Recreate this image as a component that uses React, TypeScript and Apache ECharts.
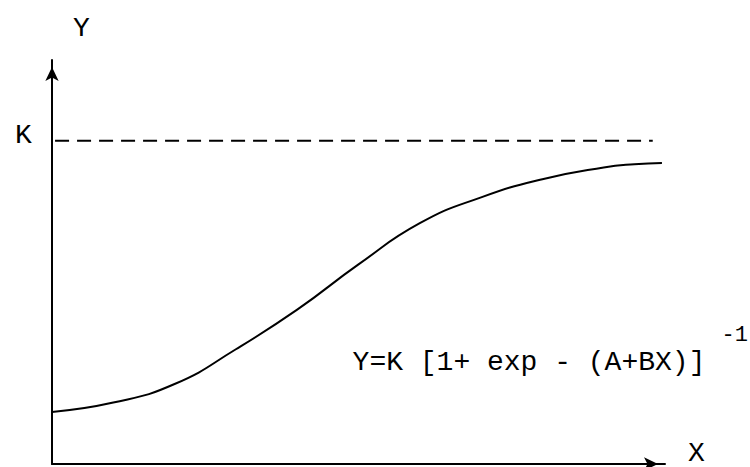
import React, { useEffect, useRef } from "react";
import * as echarts from "echarts";

// Logistic curve (x: 0..100, y: 0..100, K = 80)
const curveX = [0, 10, 20, 30, 40, 50, 60, 70, 80, 90, 95, 99.5];
const curveY = [12.9, 15.2, 19.8, 28.4, 38.2, 49.4, 59.6, 66.0, 70.5, 73.4, 74.2, 74.5];
const kValue = 80;
const kLineX = [0.5, 98];
const kLabel = "K";
const formula = "Y=K [1+ exp - (A+BX)]";
const exponent = "-1";
const xName = "X";
const yName = "Y";

const FONT = "'Liberation Mono', 'DejaVu Sans Mono', monospace";

export default function App() {
  const ref = useRef<HTMLDivElement>(null);
  useEffect(() => {
    if (!ref.current) return;
    const chart = echarts.init(ref.current, null, { renderer: "svg" });
    const option = {
      animation: false,
      backgroundColor: "#fff",
      grid: { left: 52, right: 85, top: 60, bottom: 3, containLabel: false },
      xAxis: {
        type: "value",
        min: 0,
        max: 100,
        axisLine: {
          show: true,
          onZero: false,
          symbol: ["none", "arrow"],
          symbolSize: [10, 14],
          symbolOffset: [0, -7],
          lineStyle: { color: "#000", width: 2 },
        },
        axisTick: { show: false },
        axisLabel: { show: false },
        splitLine: { show: false },
      },
      yAxis: {
        type: "value",
        min: 0,
        max: 100,
        axisLine: {
          show: true,
          onZero: false,
          symbol: ["none", "arrow"],
          symbolSize: [10, 14],
          symbolOffset: [0, -7],
          lineStyle: { color: "#000", width: 2 },
        },
        axisTick: { show: false },
        splitLine: { show: false },
        axisLabel: { show: false },
      },
      series: [
        {
          type: "line",
          data: kLineX.map((x) => [x, kValue]),
          showSymbol: false,
          symbol: "none",
          lineStyle: { color: "#000", width: 2, type: [14, 8] },
          silent: true,
        },
        {
          type: "line",
          data: curveX.map((x, i) => [x, curveY[i]]),
          smooth: 0.5,
          showSymbol: false,
          symbol: "none",
          lineStyle: { color: "#000", width: 2 },
          silent: true,
        },
      ],
      graphic: [
        {
          type: "text",
          left: 73,
          top: 14,
          style: { text: yName, font: `28px ${FONT}`, fill: "#000" },
        },
        {
          type: "text",
          left: 15,
          top: 121,
          style: { text: kLabel, font: `28px ${FONT}`, fill: "#000" },
        },
        {
          type: "text",
          left: 688,
          top: 439,
          style: { text: xName, font: `28px ${FONT}`, fill: "#000" },
        },
        {
          type: "text",
          x: 529,
          y: 362,
          style: {
            text: formula,
            font: `28px ${FONT}`,
            fill: "#000",
            align: "center",
            verticalAlign: "middle",
          },
        },
        {
          type: "text",
          x: 748,
          y: 335,
          style: {
            text: exponent,
            font: `22px ${FONT}`,
            fill: "#000",
            align: "right",
            verticalAlign: "middle",
          },
        },
      ],
    };
    chart.setOption(option);
    return () => chart.dispose();
  }, []);
  return (
    <div
      ref={ref}
      style={{ position: "fixed", left: 0, top: 0, width: 750, height: 467 }}
    />
  );
}
